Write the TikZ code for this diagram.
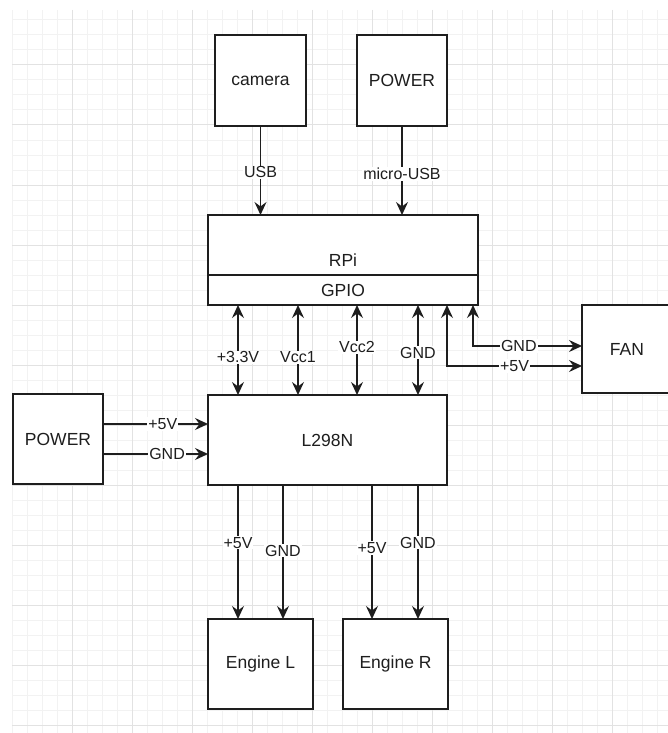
\documentclass[tikz,border=0pt]{standalone}
\usepackage{fontspec}
\setmainfont{Liberation Sans}
\usetikzlibrary{arrows.meta}
\definecolor{gmin}{RGB}{242,242,242}
\definecolor{gmaj}{RGB}{226,226,226}
\definecolor{ink}{RGB}{30,30,30}
\begin{document}
\begin{tikzpicture}[x=1pt,y=-1pt,
  box/.style={draw=ink, line width=1.5pt, fill=white, inner sep=0pt, outer sep=0pt,
    font=\fontsize{17.5}{20}\selectfont, text=ink},
  plain/.style={inner sep=0pt, font=\fontsize{17.5}{20}\selectfont, text=ink},
  lbl/.style={fill=white, inner sep=1pt, font=\fontsize{16}{18}\selectfont, text=ink},
  wire/.style={draw=ink, line width=1.5pt, -{Stealth[length=13pt,width=12pt,inset=4.5pt]}},
  dwire/.style={draw=ink, line width=1.5pt, {Stealth[length=13pt,width=12pt,inset=4.5pt]}-{Stealth[length=13pt,width=12pt,inset=4.5pt]}},
]
\useasboundingbox (0,0) rectangle (668,733);
% background grid
\begin{scope}
  \clip (0,0) rectangle (668,733);
  \foreach \gx in {12,27,...,672} \draw[gmin, line width=1pt] (\gx,10) -- (\gx,733);
  \foreach \gy in {20,35,...,733} \draw[gmin, line width=1pt] (12,\gy) -- (668,\gy);
  \foreach \gx in {72,132,...,672} \draw[gmaj, line width=1pt] (\gx,10) -- (\gx,733);
  \foreach \gy in {65,125,...,733} \draw[gmaj, line width=1pt] (12,\gy) -- (668,\gy);
\end{scope}

% boxes
\node[box, minimum width=91pt, minimum height=91pt] (cam) at (260.5,80.5) {camera};
\node[box, minimum width=90pt, minimum height=91pt] (pwrtop) at (402,80.5) {POWER};
\node[box, minimum width=270pt, minimum height=90pt] (rpi) at (343,260) {};
\node[box, minimum width=270pt, minimum height=30pt] (gpio) at (343,290) {GPIO};
\node[plain] (rpilabel) at (343,260) {RPi};
\node[box, minimum width=239pt, minimum height=90pt] (drv) at (327.5,440) {L298N};
\node[box, minimum width=90pt, minimum height=90pt] (pwrleft) at (58,439) {POWER};
\node[box, minimum width=90pt, minimum height=88pt] (fan) at (627,349) {FAN};
\node[box, minimum width=105pt, minimum height=90pt] (engl) at (260.5,664) {Engine L};
\node[box, minimum width=105pt, minimum height=90pt] (engr) at (395.5,664) {Engine R};

% top connections
\draw[wire] (cam.south) -- node[lbl, pos=0.52] {USB} (cam.south |- rpi.north);
\draw[wire] (pwrtop.south) -- node[lbl, pos=0.54] {micro-USB} (pwrtop.south |- rpi.north);

% GPIO <-> L298N
\draw[dwire] (238,0 |- gpio.south) -- node[lbl, pos=0.58] {+3.3V} (238,0 |- drv.north);
\draw[dwire] (298,0 |- gpio.south) -- node[lbl, pos=0.58] {Vcc1} (298,0 |- drv.north);
\draw[dwire] (357,0 |- gpio.south) -- node[lbl, pos=0.47] {Vcc2} (357,0 |- drv.north);
\draw[dwire] (418,0 |- gpio.south) -- node[lbl, pos=0.53] {GND} (418,0 |- drv.north);

% GPIO <-> FAN
\draw[dwire] (473,0 |- gpio.south) |- node[lbl, pos=0.71] {GND} (fan.west |- 0,346);
\draw[dwire] (447,0 |- gpio.south) |- node[lbl, pos=0.75] {+5V} (fan.west |- 0,366);

% left power -> L298N
\draw[wire] (pwrleft.east |- 0,424) -- node[lbl, pos=0.57] {+5V} (drv.west |- 0,424);
\draw[wire] (pwrleft.east |- 0,454) -- node[lbl, pos=0.61] {GND} (drv.west |- 0,454);

% L298N -> engines
\draw[wire] (238,0 |- drv.south) -- node[lbl, pos=0.43] {+5V} (238,0 |- engl.north);
\draw[wire] (283,0 |- drv.south) -- node[lbl, pos=0.49] {GND} (283,0 |- engl.north);
\draw[wire] (372,0 |- drv.south) -- node[lbl, pos=0.47] {+5V} (372,0 |- engr.north);
\draw[wire] (418,0 |- drv.south) -- node[lbl, pos=0.43] {GND} (418,0 |- engr.north);
\end{tikzpicture}
\end{document}
